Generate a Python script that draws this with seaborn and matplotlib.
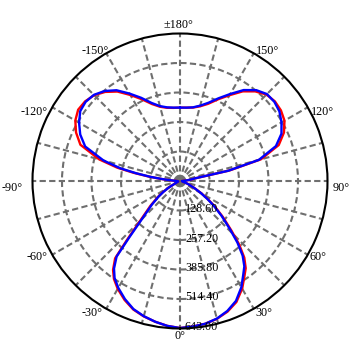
import numpy as np
import pandas as pd
import matplotlib
matplotlib.use("Agg")
import matplotlib.pyplot as plt
import matplotlib.transforms as mtransforms
import seaborn as sns

sns.set_style("white")
plt.rcParams['font.family'] = ['Liberation Serif', 'DejaVu Serif']

# ---- data ----
angles_deg = [-180, -175, -170, -165, -160, -155, -150, -145, -140, -135, -130, -125,
              -120, -115, -110, -105, -102, -100, -98, -96, -94, -90, -80, -70, -64,
              -60, -57, -54, -50, -46, -42, -40, -37, -34, -30, -25, -20, -15, -10,
              -5, 0, 5, 10, 15, 20, 25, 30, 34, 37, 40, 43, 46, 50, 54, 57, 60, 64,
              70, 80, 90, 94, 96, 98, 100, 102, 105, 110, 115, 120, 125, 130, 135,
              140, 145, 150, 155, 160, 165, 170, 175, 180]

blue_cd = [320, 321, 326, 338, 362, 400, 440, 483, 512, 531, 537, 531,
           508, 480, 440, 345, 265, 193, 130, 74, 35, 12, 8, 10, 20,
           55, 85, 115, 160, 214, 330, 430, 478, 510, 538, 568, 594, 610, 623,
           634, 641, 637, 632, 621, 603, 577, 535, 493, 466, 425, 367, 303, 237, 180, 140, 105, 68,
           35, 10, 8, 20, 35, 50, 67, 215, 356, 445, 488, 511, 529, 537, 536,
           517, 484, 438, 398, 363, 340, 326, 321, 320]

red_cd = [320, 320, 324, 335, 357, 393, 433, 476, 507, 529, 540, 542,
          527, 500, 462, 365, 280, 205, 135, 78, 38, 12, 8, 10, 21,
          58, 88, 120, 168, 225, 345, 440, 485, 515, 543, 572, 596, 611, 623,
          634, 641, 637, 632, 622, 606, 582, 542, 502, 476, 436, 378, 312, 244, 185, 143, 108, 70,
          36, 10, 8, 21, 37, 52, 70, 220, 365, 458, 500, 526, 537, 540, 533,
          510, 477, 432, 393, 358, 337, 325, 321, 320]

radial_ticks = [128.60, 257.20, 385.80, 514.40, 643.00]
radial_labels = ["128.60", "257.20", "385.80", "514.40", "643.00"]

angle_labels = ["±180°", "-150°", "150°", "-120°", "120°", "-90°", "90°",
                "-60°", "60°", "-30°", "30°", "0°"]
# label centres in pixels (x, y from top)
angle_label_px = [(178, 25.5), (95, 51), (267.5, 51), (34, 111.7), (322, 112),
                  (12, 188), (341, 188), (37.5, 257.5), (318, 257.5),
                  (91.7, 312.7), (264, 312.5), (180, 336)]

# ---- table ----
df = pd.concat([
    pd.DataFrame({"theta": np.deg2rad(angles_deg), "r": red_cd, "series": "C0-C180"}),
    pd.DataFrame({"theta": np.deg2rad(angles_deg), "r": blue_cd, "series": "C90-C270"}),
], ignore_index=True)

W = H = 350
fig = plt.figure(figsize=(3.5, 3.5), dpi=100)
cx, cy, R = 180.0, 181.0, 147.5
ax = fig.add_axes([(cx - R) / W, (H - cy - R) / H, 2 * R / W, 2 * R / H], projection='polar')
ax.set_theta_zero_location('S')
ax.set_theta_direction(1)
ax.set_ylim(0, 643)

ax.set_xticks(np.deg2rad(np.arange(0, 360, 15)))
ax.set_xticklabels([])
ax.set_yticks(radial_ticks[:-1])
ax.set_yticklabels([])
ax.grid(True, color='#6f6f6f', linestyle=(0, (3, 1.6)), linewidth=1.5)
ax.spines['polar'].set_color('black')
ax.spines['polar'].set_linewidth(1.5)
ax.set_axisbelow(True)

sns.lineplot(data=df, x="theta", y="r", hue="series",
             palette={"C0-C180": "#ff0000", "C90-C270": "#0000ff"},
             sort=False, estimator=None, legend=False, linewidth=1.7, ax=ax)
ax.set_xlabel("")
ax.set_ylabel("")

off = mtransforms.offset_copy(ax.transData, fig=fig, x=5, y=1.5, units='dots')
for rv, lab in zip(radial_ticks, radial_labels):
    ax.text(0, rv, lab, transform=off, ha='left', va='center', fontsize=8.7, color='black')

for lab, (px, py) in zip(angle_labels, angle_label_px):
    fig.text(px / W, 1 - py / H, lab, ha='center', va='center', fontsize=8.7, color='black')

fig.savefig("out.png", dpi=100)
